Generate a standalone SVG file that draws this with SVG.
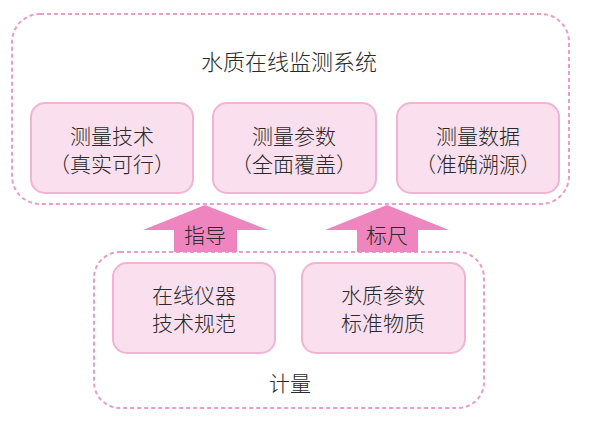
<svg xmlns="http://www.w3.org/2000/svg" width="600" height="422" viewBox="0 0 600 422">
<style>
.cont{fill:none;stroke:#ec9cc8;stroke-width:2;stroke-dasharray:4 3}
.box{fill:#fae0ef;stroke:#f2b3d4;stroke-width:2}
.arrow{fill:#ee85be}
text{font-family:"Noto Sans CJK SC","Noto Sans CJK JP",sans-serif;fill:#2a2a2a;text-anchor:middle;dominant-baseline:central;font-weight:300}
.t{font-size:21px}
.h{font-size:22px}
</style>
<rect width="600" height="422" fill="#ffffff"/>
<g id="system">
<rect class="cont" x="12" y="14" width="557" height="190" rx="28"/>
<text class="h" x="289" y="60">水质在线监测系统</text>
</g>
<g id="metrology">
<rect class="cont" x="94" y="252" width="390" height="156" rx="26"/>
<text class="t" x="290" y="382">计量</text>
</g>
<g id="connectors">
<g id="arrow1">
<polygon class="arrow" points="205,205 268,230 237,230 237,252 174,252 174,230 143,230"/>
<text class="t" x="205" y="234">指导</text>
</g>
<g id="arrow2">
<polygon class="arrow" points="387,205 449,230 418,230 418,252 357,252 357,230 325,230"/>
<text class="t" x="387" y="234">标尺</text>
</g>
</g>
<g id="n1">
<rect class="box" x="31" y="103" width="162" height="90" rx="14"/>
<text class="t" x="112" y="135">测量技术</text>
<text class="t" x="112" y="163">（真实可行）</text>
</g>
<g id="n2">
<rect class="box" x="213" y="103" width="163" height="90" rx="14"/>
<text class="t" x="294" y="135">测量参数</text>
<text class="t" x="294" y="163">（全面覆盖）</text>
</g>
<g id="n3">
<rect class="box" x="397" y="103" width="162" height="90" rx="14"/>
<text class="t" x="478" y="135">测量数据</text>
<text class="t" x="478" y="163">（准确溯源）</text>
</g>
<g id="n4">
<rect class="box" x="113" y="263" width="162" height="90" rx="14"/>
<text class="t" x="194" y="294">在线仪器</text>
<text class="t" x="194" y="322">技术规范</text>
</g>
<g id="n5">
<rect class="box" x="302" y="263" width="163" height="90" rx="14"/>
<text class="t" x="383" y="294">水质参数</text>
<text class="t" x="383" y="322">标准物质</text>
</g>
</svg>
